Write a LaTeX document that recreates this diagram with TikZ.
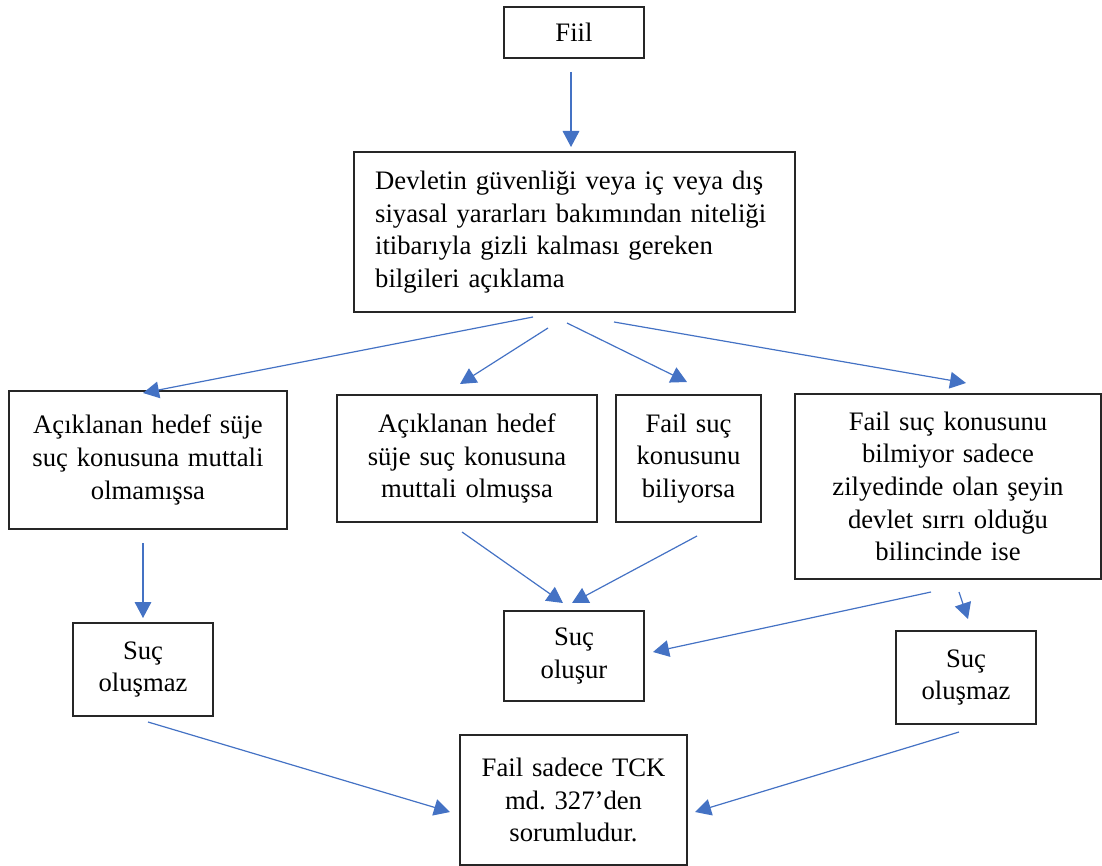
\documentclass[tikz,border=0pt]{standalone}
\usepackage{fontspec}
\setmainfont{Liberation Serif}
\usetikzlibrary{arrows.meta}
\definecolor{flowblue}{HTML}{4472C4}
\definecolor{boxline}{HTML}{262626}
\frenchspacing
\begin{document}
\begin{tikzpicture}[x=0.75pt,y=-0.75pt,
  stepbox/.style={draw=boxline,line width=1.1pt,rectangle,inner sep=0pt,
    align=center,font=\fontsize{20}{24.5}\selectfont},
  flow/.style={draw=flowblue,line width=0.9pt,
    -{Triangle[length=12pt,width=12.5pt]}}]
\useasboundingbox (0,0) rectangle (1102,866);
% boxes
\node[stepbox,minimum width=105pt,minimum height=38.25pt] (fiil) at (574,32.5) {Fiil};
\node[stepbox,minimum width=330.75pt,minimum height=120pt,text width=299pt,align=left] (act) at (574.5,232)
  {Devletin güvenliği veya iç veya dış\\siyasal yararları bakımından niteliği\\itibarıyla gizli kalması gereken\\bilgileri açıklama};
\node[stepbox,minimum width=208.5pt,minimum height=103.5pt,text width=190pt] (nonaware) at (148,460)
  {Açıklanan hedef süje\\suç konusuna muttali\\olmamışsa\vphantom{g}};
\node[stepbox,minimum width=195pt,minimum height=95.25pt,text width=180pt] (aware) at (467,458.5)
  {Açıklanan hedef\\süje suç konusuna\\muttali olmuşsa};
\node[stepbox,minimum width=108.75pt,minimum height=95.25pt,text width=100pt] (knows) at (688.5,458.5)
  {Fail suç\\konusunu\\biliyorsa};
\node[stepbox,minimum width=229.5pt,minimum height=138.75pt,text width=215pt] (unaware) at (948,486.5)
  {Fail suç konusunu\\bilmiyor sadece\\zilyedinde olan şeyin\\devlet sırrı olduğu\\bilincinde ise};
\node[stepbox,minimum width=105pt,minimum height=69.75pt,text width=100pt] (noneL) at (143,669.5)
  {Suç\\oluşmaz};
\node[stepbox,minimum width=105pt,minimum height=67.5pt,text width=100pt] (crime) at (574,656)
  {Suç\\oluşur};
\node[stepbox,minimum width=105pt,minimum height=69.75pt,text width=100pt] (noneR) at (966,677.5)
  {Suç\\oluşmaz};
\node[stepbox,minimum width=170.25pt,minimum height=97.5pt,text width=160pt] (tck) at (573.5,800)
  {Fail sadece TCK\\md. 327’den\\sorumludur.};
% connector end points
\coordinate (f0) at (571,72);   \coordinate (f1) at (571,147);
\coordinate (a0) at (533,317);  \coordinate (a1) at (143,393);
\coordinate (b0) at (548,328);  \coordinate (b1) at (460,384);
\coordinate (c0) at (567,323);  \coordinate (c1) at (687,382);
\coordinate (d0) at (614,322);  \coordinate (d1) at (966,383);
\coordinate (e0) at (143,543);  \coordinate (e1) at (143,618);
\coordinate (g0) at (462,532);  \coordinate (g1) at (563,603);
\coordinate (h0) at (697,536);  \coordinate (h1) at (572,603);
\coordinate (i0) at (931,592);  \coordinate (i1) at (653,652);
\coordinate (j0) at (959,592);  \coordinate (j1) at (968,619);
\coordinate (k0) at (148,722);  \coordinate (k1) at (450,812);
\coordinate (l0) at (959,732);  \coordinate (l1) at (695,812);
% connectors
\draw[flow] (f0) -- (f1);
\draw[flow] (a0) -- (a1);
\draw[flow] (b0) -- (b1);
\draw[flow] (c0) -- (c1);
\draw[flow] (d0) -- (d1);
\draw[flow] (e0) -- (e1);
\draw[flow] (g0) -- (g1);
\draw[flow] (h0) -- (h1);
\draw[flow] (i0) -- (i1);
\draw[flow] (j0) -- (j1);
\draw[flow] (k0) -- (k1);
\draw[flow] (l0) -- (l1);
\end{tikzpicture}
\end{document}
